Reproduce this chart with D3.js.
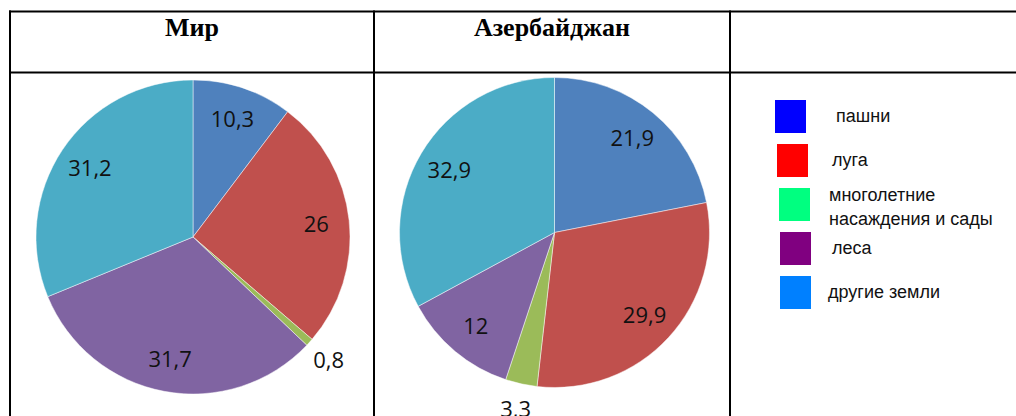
<!DOCTYPE html>
<html>
<head>
<meta charset="utf-8">
<script src="https://cdn.jsdelivr.net/npm/d3@7"></script>
<style>
  html, body { margin: 0; padding: 0; background: #fff; }
  svg { display: block; }
</style>
</head>
<body>
<svg id="chart" width="1016" height="416"></svg>
<script>
// Land use structure, %
const categories = ["пашни", "луга", "многолетние насаждения и сады", "леса", "другие земли"];
const worldValues = [10.3, 26, 0.8, 31.7, 31.2];
const azerbaijanValues = [21.9, 29.9, 3.3, 12, 32.9];
const columnTitles = ["Мир", "Азербайджан", ""];
const legendLines = [["пашни"], ["луга"], ["многолетние", "насаждения и сады"], ["леса"], ["другие земли"]];

// Slice fills and the legend swatch fills
const sliceColors = ["#4F81BD", "#C0504D", "#9BBB59", "#8064A2", "#4BACC6"];
const legendColors = ["#0000FF", "#FF0000", "#00FF80", "#800080", "#0080FF"];

const svg = d3.select("#chart");
const fmt = v => String(v).replace(".", ",");

// Table grid
const colEdges = [10, 374, 730, 1030];
const rowEdges = [11.5, 72.5, 430];
const grid = svg.append("g").attr("stroke", "#000").attr("stroke-width", 2);
rowEdges.slice(0, 2).forEach(y => grid.append("line").attr("x1", colEdges[0] - 1).attr("x2", 1016).attr("y1", y).attr("y2", y));
colEdges.slice(0, 3).forEach(x => grid.append("line").attr("x1", x).attr("x2", x).attr("y1", rowEdges[0] - 1).attr("y2", 416));

// Column headers
svg.append("g").selectAll("text").data(columnTitles).join("text")
  .attr("x", (d, i) => (colEdges[i] + colEdges[i + 1]) / 2)
  .attr("y", 36)
  .attr("text-anchor", "middle")
  .attr("font-family", "'Liberation Serif', 'Times New Roman', serif")
  .attr("font-weight", "bold")
  .attr("font-size", 26)
  .text(d => d);

// Pies
const pie = d3.pie().sort(null).value(d => d);

function drawPie(values, cx, cy, r) {
  const g = svg.append("g").attr("transform", `translate(${cx},${cy})`);
  const arcs = pie(values);
  const arc = d3.arc().innerRadius(0).outerRadius(r);
  g.selectAll("path").data(arcs).join("path")
    .attr("d", arc)
    .attr("fill", (d, i) => sliceColors[i])
    .attr("stroke", "#ffffff")
    .attr("stroke-opacity", 0.6)
    .attr("stroke-width", 0.8);

  const inner = d3.arc().innerRadius(r * 0.79).outerRadius(r * 0.79);
  const outer = d3.arc().innerRadius(r * 1.165).outerRadius(r * 1.165);
  g.selectAll("text").data(arcs).join("text")
    .attr("transform", d => {
      const small = (d.endAngle - d.startAngle) < 0.3;
      const [x, y] = (small ? outer : inner).centroid(d);
      return `translate(${x},${y})`;
    })
    .attr("text-anchor", "middle")
    .attr("dy", "0.36em")
    .attr("font-family", "'Open Sans', 'Noto Sans', sans-serif")
    .attr("font-size", 22)
    .attr("fill", "#111")
    .text(d => fmt(d.data));
}

drawPie(worldValues, 193, 237, 157);
drawPie(azerbaijanValues, 554.5, 232.5, 155);

// Legend
const swatchX = [775, 777, 779, 780, 780];
const labelX = [836, 832, 829, 832, 828];
const legend = svg.append("g");
const rows = legend.selectAll("g").data(categories).join("g")
  .attr("transform", (d, i) => `translate(0,${100 + i * 44})`);
rows.append("rect")
  .attr("x", (d, i) => swatchX[i])
  .attr("width", 31).attr("height", 33)
  .attr("fill", (d, i) => legendColors[i]);
rows.append("text")
  .attr("font-family", "'Liberation Sans', Arial, sans-serif")
  .attr("font-size", 18)
  .attr("fill", "#111")
  .each(function (d, i) {
    const lines = legendLines[i];
    const t = d3.select(this);
    const y0 = lines.length > 1 ? 13 : 22;
    lines.forEach((ln, k) => t.append("tspan").attr("x", labelX[i]).attr("y", y0 + k * 24).text(ln));
  });
</script>
</body>
</html>
